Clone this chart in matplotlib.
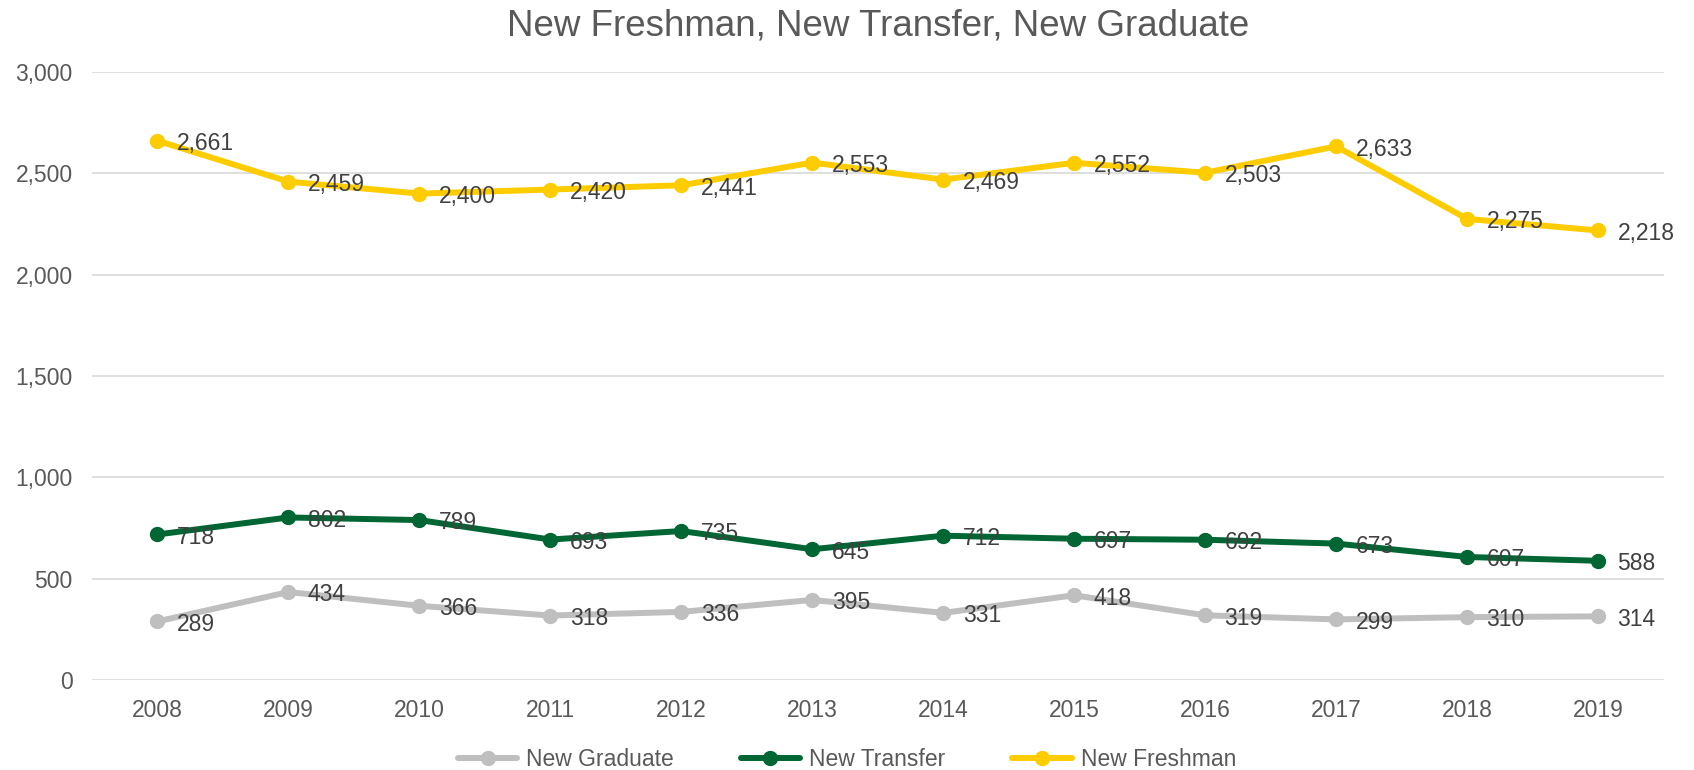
import matplotlib
matplotlib.use("Agg")
import matplotlib.pyplot as plt
from matplotlib.ticker import FuncFormatter

plt.rcParams['font.family'] = ['Liberation Sans', 'DejaVu Sans']

years = ['2008', '2009', '2010', '2011', '2012', '2013', '2014', '2015', '2016', '2017', '2018', '2019']
new_graduate = [289, 434, 366, 318, 336, 395, 331, 418, 319, 299, 310, 314]
new_transfer = [718, 802, 789, 693, 735, 645, 712, 697, 692, 673, 607, 588]
new_freshman = [2661, 2459, 2400, 2420, 2441, 2553, 2469, 2552, 2503, 2633, 2275, 2218]

series = [
    ('New Graduate', new_graduate, '#BFBFBF'),
    ('New Transfer', new_transfer, '#006633'),
    ('New Freshman', new_freshman, '#FFCC00'),
]

fig = plt.figure(figsize=(16.94, 7.70), dpi=100)
ax = fig.add_axes([0.0543, 0.1169, 0.9277, 0.7896])

x = list(range(len(years)))
for name, vals, col in series:
    ax.plot(x, vals, color=col, lw=4.3, marker='o', ms=10, label=name,
            solid_capstyle='round', zorder=3)
    for xi, v in zip(x, vals):
        ax.annotate(f'{v:,}', (xi, v), xytext=(14, -2), textcoords='offset points',
                    ha='left', va='center', fontsize=16.5, color='#404040', zorder=4)

ax.set_xlim(-0.5, len(years) - 0.5)
ax.set_ylim(0, 3000)
ax.set_yticks(range(0, 3001, 500))
ax.yaxis.set_major_formatter(FuncFormatter(lambda v, p: f'{int(v):,}'))
ax.set_xticks(x)
ax.set_xticklabels(years)
ax.grid(axis='y', color='#D9D9D9', lw=1.2, zorder=0)
for s in ax.spines.values():
    s.set_visible(False)
ax.tick_params(length=0, labelsize=16.5, colors='#595959', pad=14)
ax.tick_params(axis='y', pad=14)

ax.set_title('New Freshman, New Transfer, New Graduate', fontsize=26.5, color='#595959', pad=26)

handles, labels = ax.get_legend_handles_labels()
fig.legend(handles, labels, loc='center', bbox_to_anchor=(0.5, 0.014), ncol=3, frameon=False,
           fontsize=16.5, labelcolor='#595959', handlelength=2.6, handletextpad=0.4,
           columnspacing=2.9, borderpad=0.1)

fig.savefig('out.png', dpi=100)
